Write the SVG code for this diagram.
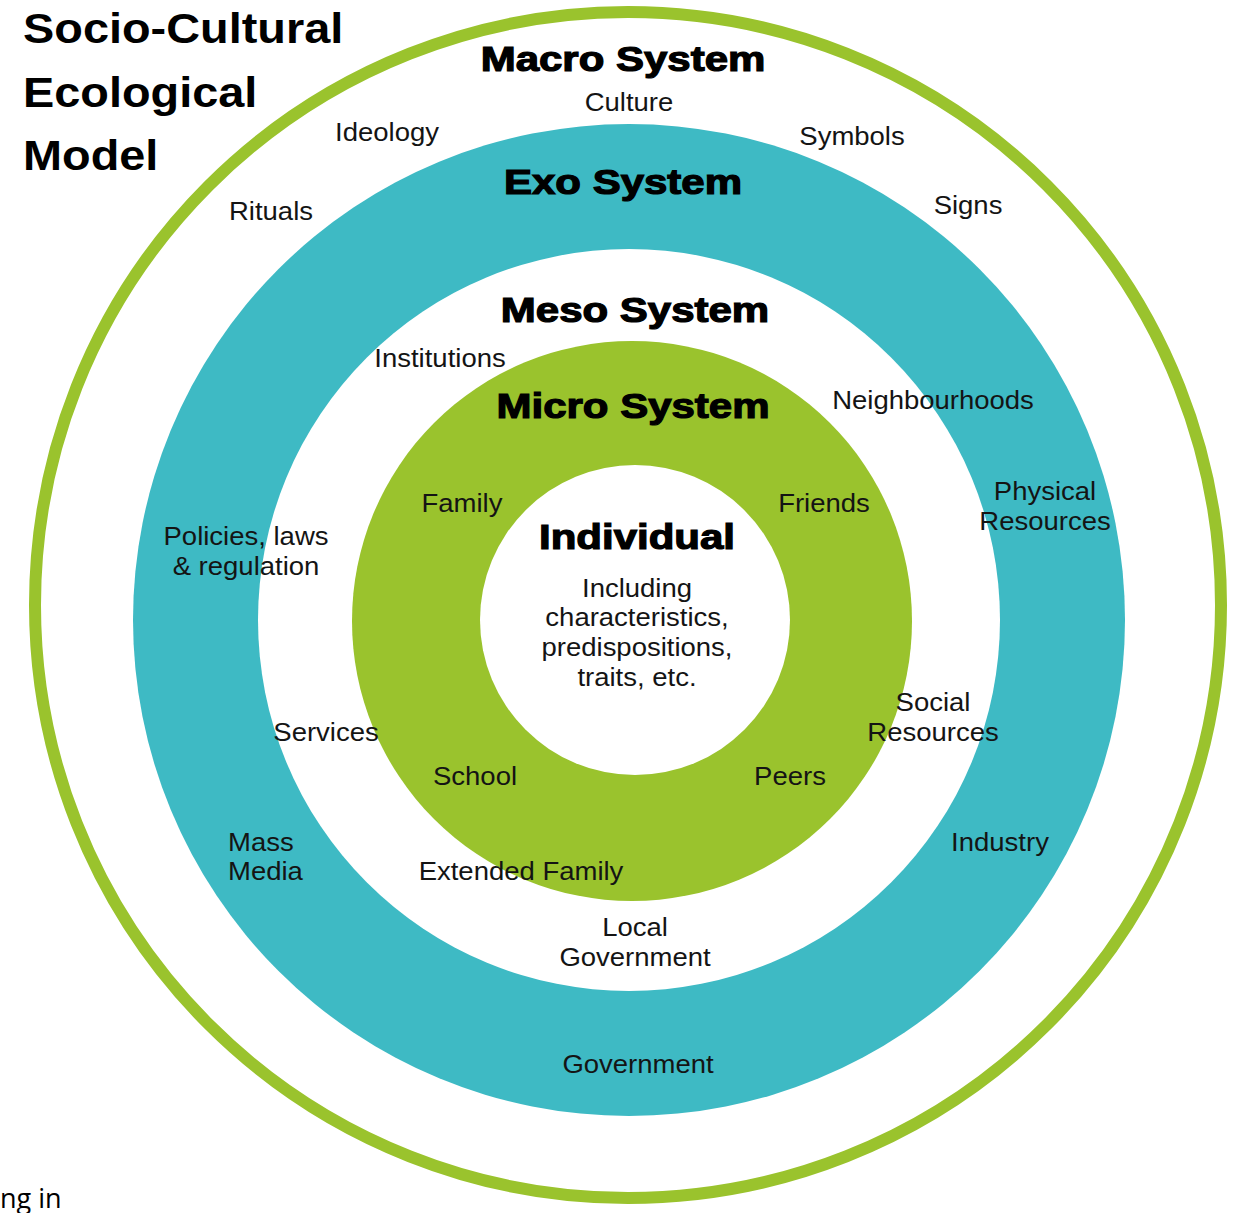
<svg xmlns="http://www.w3.org/2000/svg" width="1248" height="1213" viewBox="0 0 1248 1213">
  <style>
    .lbl { font-family: "Liberation Sans", Arial, sans-serif; font-size: 25px; fill: #141414; text-anchor: middle; }
    .lbl-l { font-family: "Liberation Sans", Arial, sans-serif; font-size: 25px; fill: #141414; text-anchor: start; }
    .head { font-family: "Liberation Sans", Arial, sans-serif; font-size: 35px; font-weight: bold; fill: #000; stroke: #000; stroke-width: 1.2; text-anchor: middle; }
    .title { font-family: "Liberation Sans", Arial, sans-serif; font-size: 43px; font-weight: bold; fill: #000; }
    .note { font-family: "Open Sans", "Liberation Sans", sans-serif; font-size: 27px; fill: #000; }
    .green { fill: #9ac32d; }
    .teal { fill: #3ebac4; }
    .hole { fill: #ffffff; }
  </style>

  <rect width="1248" height="1213" fill="#ffffff"/>

  <!-- Title -->
  <g id="title">
    <text class="title" transform="translate(23,43) scale(1.09,1)">Socio-Cultural</text>
    <text class="title" transform="translate(23,107) scale(1.09,1)">Ecological</text>
    <text class="title" transform="translate(23,170) scale(1.09,1)">Model</text>
  </g>

  <!-- Macro system: outer ring -->
  <g id="macro-system">
    <circle cx="628" cy="605" r="593" fill="none" stroke="#9ac32d" stroke-width="12"/>
  </g>

  <!-- Exo system: teal band -->
  <g id="exo-system">
    <circle class="teal" cx="629" cy="620" r="496"/>
  </g>

  <!-- Meso system: white band -->
  <g id="meso-system">
    <circle class="hole" cx="629" cy="620" r="371"/>
  </g>

  <!-- Micro system: green band -->
  <g id="micro-system">
    <circle class="green" cx="632" cy="621" r="280"/>
  </g>

  <!-- Individual: centre -->
  <g id="individual">
    <circle class="hole" cx="635" cy="620" r="155"/>
  </g>

  <!-- Macro labels -->
  <g id="macro-labels">
    <text class="head" transform="translate(623,71) scale(1.2,1)">Macro System</text>
    <text class="lbl" transform="translate(629,111) scale(1.1,1)">Culture</text>
    <text class="lbl" transform="translate(387,141) scale(1.1,1)">Ideology</text>
    <text class="lbl" transform="translate(852,145) scale(1.1,1)">Symbols</text>
    <text class="lbl" transform="translate(968,214) scale(1.1,1)">Signs</text>
    <text class="lbl" transform="translate(271,220) scale(1.1,1)">Rituals</text>
  </g>

  <!-- Exo labels -->
  <g id="exo-labels">
    <text class="head" transform="translate(623,194) scale(1.2,1)">Exo System</text>
    <text class="lbl" transform="translate(1045,500) scale(1.1,1)">Physical</text>
    <text class="lbl" transform="translate(1045,530) scale(1.1,1)">Resources</text>
    <text class="lbl" transform="translate(246,545) scale(1.1,1)">Policies, laws</text>
    <text class="lbl" transform="translate(246,575) scale(1.1,1)">&amp; regulation</text>
    <text class="lbl-l" transform="translate(228,851) scale(1.1,1)">Mass</text>
    <text class="lbl-l" transform="translate(228,880) scale(1.1,1)">Media</text>
    <text class="lbl" transform="translate(1000,851) scale(1.1,1)">Industry</text>
    <text class="lbl" transform="translate(638,1073) scale(1.1,1)">Government</text>
  </g>

  <!-- Meso labels -->
  <g id="meso-labels">
    <text class="head" transform="translate(635,322) scale(1.2,1)">Meso System</text>
    <text class="lbl" transform="translate(440,367) scale(1.1,1)">Institutions</text>
    <text class="lbl" transform="translate(933,409) scale(1.1,1)">Neighbourhoods</text>
    <text class="lbl" transform="translate(933,711) scale(1.1,1)">Social</text>
    <text class="lbl" transform="translate(933,741) scale(1.1,1)">Resources</text>
    <text class="lbl" transform="translate(326,741) scale(1.1,1)">Services</text>
    <text class="lbl" transform="translate(521,880) scale(1.1,1)">Extended Family</text>
    <text class="lbl" transform="translate(635,936) scale(1.1,1)">Local</text>
    <text class="lbl" transform="translate(635,966) scale(1.1,1)">Government</text>
  </g>

  <!-- Micro labels -->
  <g id="micro-labels">
    <text class="head" transform="translate(633,418) scale(1.2,1)">Micro System</text>
    <text class="lbl" transform="translate(462,512) scale(1.1,1)">Family</text>
    <text class="lbl" transform="translate(824,512) scale(1.1,1)">Friends</text>
    <text class="lbl" transform="translate(475,785) scale(1.1,1)">School</text>
    <text class="lbl" transform="translate(790,785) scale(1.1,1)">Peers</text>
  </g>

  <!-- Individual labels -->
  <g id="individual-labels">
    <text class="head" transform="translate(637,549) scale(1.2,1)">Individual</text>
    <text class="lbl" transform="translate(637,597) scale(1.1,1)">Including</text>
    <text class="lbl" transform="translate(637,626) scale(1.1,1)">characteristics,</text>
    <text class="lbl" transform="translate(637,656) scale(1.1,1)">predispositions,</text>
    <text class="lbl" transform="translate(637,686) scale(1.1,1)">traits, etc.</text>
  </g>

  <!-- Clipped caption fragment at the lower left -->
  <text class="note" x="0" y="1208">ng in</text>
</svg>
